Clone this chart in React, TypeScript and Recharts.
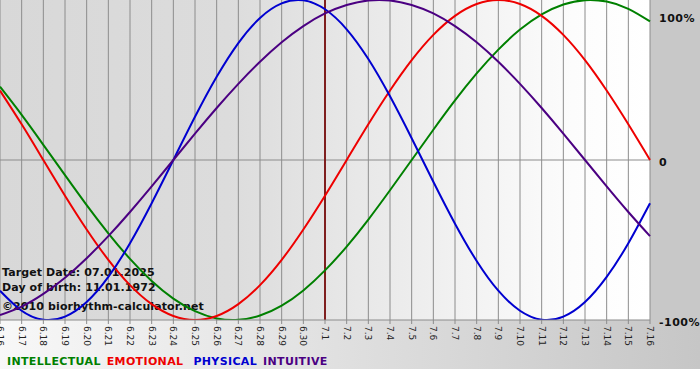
import React from 'react';
import { LineChart, Line, XAxis, YAxis, CartesianGrid, ReferenceLine, Legend } from 'recharts';

const dayLabels = [
  '6.16', '6.17', '6.18', '6.19', '6.20', '6.21', '6.22', '6.23', '6.24', '6.25', '6.26',
  '6.27', '6.28', '6.29', '6.30', '7.1', '7.2', '7.3', '7.4', '7.5', '7.6', '7.7', '7.8',
  '7.9', '7.10', '7.11', '7.12', '7.13', '7.14', '7.15', '7.16',
];

const intellectual = [
  0.458, 0.282, 0.095, -0.095, -0.282, -0.458, -0.618, -0.756, -0.866, -0.945, -0.99,
  -0.999, -0.972, -0.91, -0.815, -0.69, -0.541, -0.372, -0.189, 0, 0.189, 0.372, 0.541,
  0.69, 0.815, 0.91, 0.972, 0.999, 0.99, 0.945, 0.866,
];

const emotional = [
  0.434, 0.223, 0, -0.223, -0.434, -0.624, -0.782, -0.901, -0.975, -1, -0.975,
  -0.901, -0.782, -0.624, -0.434, -0.223, 0, 0.223, 0.434, 0.624, 0.782, 0.901, 0.975,
  1, 0.975, 0.901, 0.782, 0.624, 0.434, 0.223, 0,
];

const physical = [
  -0.817, -0.942, -0.998, -0.979, -0.888, -0.731, -0.52, -0.27, 0, 0.27, 0.52,
  0.731, 0.888, 0.979, 0.998, 0.942, 0.817, 0.631, 0.398, 0.136, -0.136, -0.398, -0.631,
  -0.817, -0.942, -0.998, -0.979, -0.888, -0.731, -0.52, -0.27,
];

const intuitive = [
  -0.969, -0.916, -0.837, -0.736, -0.614, -0.476, -0.325, -0.165, 0, 0.165, 0.325,
  0.476, 0.614, 0.736, 0.837, 0.916, 0.969, 0.997, 0.997, 0.969, 0.916, 0.837, 0.736,
  0.614, 0.476, 0.325, 0.165, 0, -0.165, -0.325, -0.476,
];

const targetLabel = '7.1';
const infoLines = ['Target Date: 07.01.2025', 'Day of birth: 11.01.1972', '\u00A92010 biorhythm-calculator.net'];
const rightTicks = [-1, 0, 1];
const rightTickLabels: Record<string, string> = { '-1': '-100%', '0': '0', '1': '100%' };

const series = [
  { key: 'intellectual', name: 'INTELLECTUAL', color: '#008000' },
  { key: 'emotional', name: 'EMOTIONAL', color: '#ee0000' },
  { key: 'physical', name: 'PHYSICAL', color: '#0000d0' },
  { key: 'intuitive', name: 'INTUITIVE', color: '#4b0082' },
];

const data = dayLabels.map((label, i) => ({
  idx: i,
  label,
  intellectual: intellectual[i],
  emotional: emotional[i],
  physical: physical[i],
  intuitive: intuitive[i],
}));

const xTicks = dayLabels.map((_, i) => i);
const targetIdx = dayLabels.indexOf(targetLabel);

const FONT = '"DejaVu Sans", Verdana, sans-serif';

const XTick = (props: any) => {
  const { x, y, payload } = props;
  return (
    <text
      x={x}
      y={y}
      transform={`rotate(90 ${x} ${y})`}
      dy="0.35em"
      textAnchor="start"
      fontSize={9}
      fontFamily={FONT}
      fill="#222"
    >
      {dayLabels[payload.value]}
    </text>
  );
};

const YTick = (props: any) => {
  const { x, y, payload } = props;
  const v = payload.value;
  return (
    <text
      x={x}
      y={y + (v === 1 ? 9 : 2)}
      dominantBaseline="central"
      textAnchor="start"
      fontSize={11}
      fontWeight="bold"
      fontFamily={FONT}
      fill="#111"
      letterSpacing={0.5}
    >
      {rightTickLabels[String(v)]}
    </text>
  );
};

const LegendContent = () => (
  <div
    style={{
      height: 30,
      lineHeight: '23px',
      paddingLeft: 7,
      fontFamily: FONT,
      fontSize: 11,
      fontWeight: 'bold',
      letterSpacing: '0.35px',
      whiteSpace: 'pre',
      textAlign: 'left',
    }}
  >
    {series.map((s, i) => (
      <span key={s.key} style={{ color: s.color, marginRight: i === 1 ? 10 : 6 }}>
        {s.name}
      </span>
    ))}
  </div>
);

export default function App() {
  return (
    <div style={{ position: 'absolute', left: 0, top: 0, width: 700, height: 380, background: '#ffffff', overflow: 'hidden' }}>
      <div style={{ position: 'absolute', left: 650, top: 0, width: 50, height: 321, background: '#c8c8c8' }} />
      <div
        style={{
          position: 'absolute',
          left: 0,
          top: 320,
          width: 700,
          height: 49,
          background: 'linear-gradient(to right, #f8f8f8, #c6c6c6)',
        }}
      />
      <div style={{ position: 'absolute', left: 0, top: 0 }}>
        <LineChart width={700} height={380} data={data} margin={{ top: 0, right: 0, bottom: 0, left: 0 }}>
          <defs>
            <linearGradient id="plotBg" x1="0" y1="0" x2="1" y2="0">
              <stop offset="0" stopColor="#d8d8d8" />
              <stop offset="0.35" stopColor="#dcdcdc" />
              <stop offset="0.6" stopColor="#ebebeb" />
              <stop offset="0.88" stopColor="#fcfcfc" />
              <stop offset="1" stopColor="#ffffff" />
            </linearGradient>
          </defs>
          <CartesianGrid horizontal={false} stroke="#8c8c8c" fill="url(#plotBg)" fillOpacity={1} />
          <XAxis
            dataKey="idx"
            type="number"
            domain={[0, dayLabels.length - 1]}
            ticks={xTicks}
            interval={0}
            height={30}
            tickSize={4}
            tickMargin={2}
            axisLine={{ stroke: '#8c8c8c' }}
            tickLine={{ stroke: '#8c8c8c' }}
            tick={<XTick />}
          />
          <YAxis
            orientation="right"
            domain={[-1, 1]}
            ticks={rightTicks}
            width={50}
            axisLine={false}
            tickLine={false}
            tickSize={0}
            tickMargin={9}
            allowDataOverflow
            tick={<YTick />}
          />
          <ReferenceLine y={0} stroke="#8c8c8c" strokeWidth={1} />
          <ReferenceLine x={targetIdx} stroke="#7f1f1f" strokeWidth={2} />
          {series.map((s) => (
            <Line
              key={s.key}
              dataKey={s.key}
              name={s.name}
              type="natural"
              stroke={s.color}
              strokeWidth={2}
              dot={false}
              activeDot={false}
              isAnimationActive={false}
            />
          ))}
          <Legend verticalAlign="bottom" align="left" content={<LegendContent />} />
          {infoLines.map((t, i) => (
            <text
              key={t}
              x={2}
              y={276 + i * 15 + (i === 2 ? 4 : 0)}
              fontSize={11}
              fontWeight="bold"
              fontFamily={FONT}
              fill="#111"
              letterSpacing={0.1}
            >
              {t}
            </text>
          ))}
        </LineChart>
      </div>
    </div>
  );
}
